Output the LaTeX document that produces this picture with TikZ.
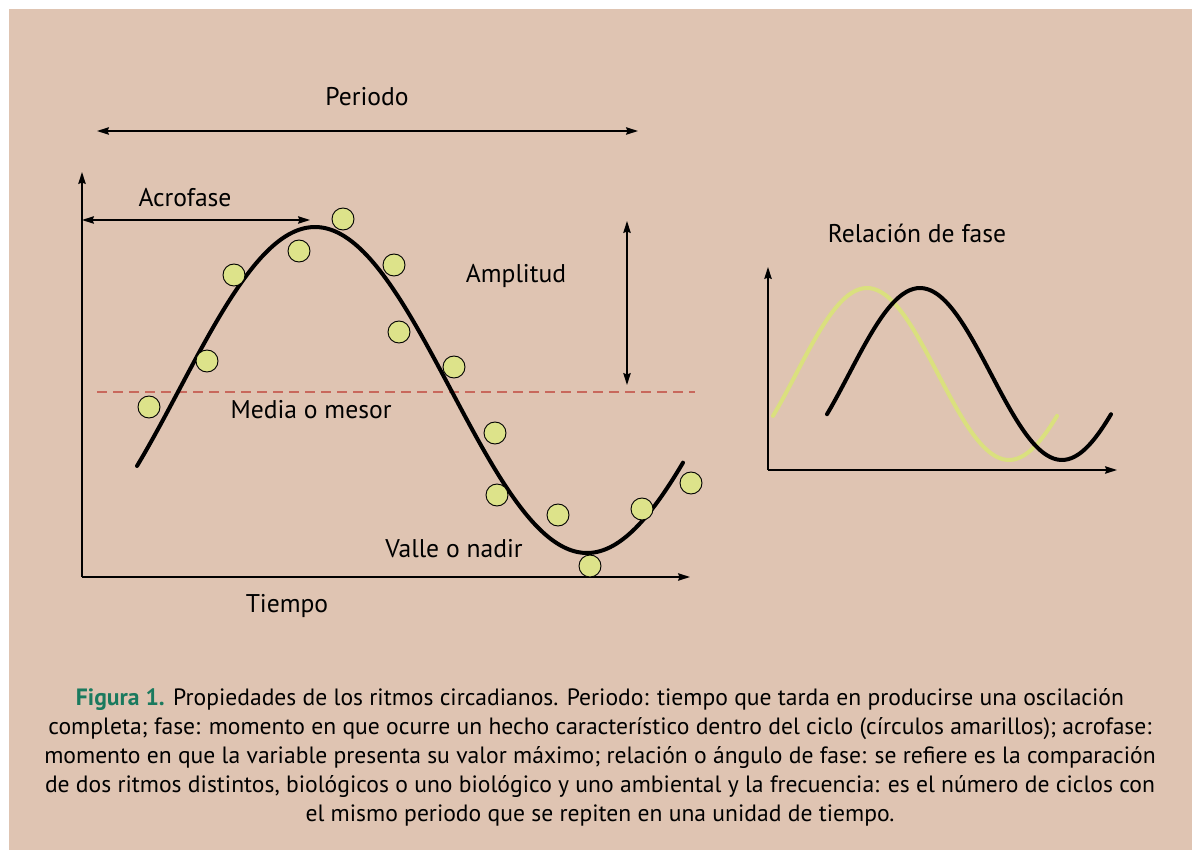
\documentclass[tikz,border=0pt]{standalone}
\usepackage{fontspec}
\setmainfont{PT Sans}
\usetikzlibrary{arrows.meta}
\definecolor{bgbeige}{RGB}{223,196,178}
\definecolor{dotyellow}{RGB}{221,227,138}
\definecolor{curveyellow}{RGB}{218,224,126}
\definecolor{meanred}{RGB}{200,104,92}
\definecolor{figgreen}{RGB}{26,122,94}
\tikzset{
  tip/.style={-{Stealth[length=12pt,width=7.5pt,inset=1.5pt]}},
  biarrow/.style={{Stealth[length=12pt,width=7.5pt,inset=1.5pt]}-{Stealth[length=12pt,width=7.5pt,inset=1.5pt]}, line width=1.2pt},
  axis/.style={tip, line width=1.3pt},
  lbl/.style={font=\fontsize{25.6}{30}\selectfont, inner sep=0pt},
  dot/.style={circle, draw=black, line width=0.9pt, fill=dotyellow, minimum size=22pt, inner sep=0pt},
  curve/.style={line width=4pt, line cap=round},
}
\begin{document}
\begin{tikzpicture}[x=1pt,y=-1pt]
\useasboundingbox (0,0) rectangle (1192,850);
\fill[white] (0,0) rectangle (1192,850);
\fill[bgbeige] (9,9) rectangle (1192,850);

% ---- main graph ----
\node[lbl] (periodo) at (367,97) {Periodo};
\coordinate (perL) at (97,131);
\coordinate (perR) at (638,131);
\draw[biarrow] (perL) -- (perR);

\coordinate (origin) at (82,577);
\coordinate (ytop) at (82,172);
\coordinate (xend) at (690,577);
\draw[axis] (origin) -- (ytop);
\draw[axis] (origin) -- (xend);

\node[lbl] (acrofase) at (185,198) {Acrofase};
\coordinate (acL) at (82,220);
\coordinate (acR) at (310,220);
\draw[biarrow] (acL) -- (acR);

\coordinate (meanL) at (97,392);
\coordinate (meanR) at (695,392);
\draw[meanred, line width=2.4pt, dash pattern=on 10pt off 6pt] (meanL) -- (meanR);

\coordinate (ampT) at (627,221);
\coordinate (ampB) at (627,385);
\draw[biarrow] (ampT) -- (ampB);
\node[lbl] (amplitud) at (516,276) {Amplitud};

\draw[curve] plot[domain=137:683, samples=120, smooth] (\x, {390-163*cos((\x-315)/544*360)});

\foreach \i/\p in {1/{(149,407)},2/{(207,361)},3/{(234,275)},4/{(299,251)},5/{(343,219)},
  6/{(394,265)},7/{(399,332)},8/{(454,367)},9/{(495,433)},10/{(497,495)},
  11/{(558,515)},12/{(590,566)},13/{(642,509)},14/{(691,483)}}
  \node[dot] (d\i) at \p {};

\node[lbl] (media) at (311,410) {Media o mesor};
\node[lbl] (valle) at (454,549) {Valle o nadir};
\node[lbl] (tiempo) at (287,606) {Tiempo};

% ---- phase relation graph ----
\node[lbl] (relacion) at (917,233) {Relación de fase};
\coordinate (o2) at (768,470);
\coordinate (y2) at (768,267);
\coordinate (x2) at (1117,470);
\draw[axis] (o2) -- (y2);
\draw[axis] (o2) -- (x2);
\draw[curve, curveyellow] plot[domain=773:1057, samples=80, smooth] (\x, {374-86*cos((\x-867)/284*360)});
\draw[curve, black] plot[domain=827:1111, samples=80, smooth] (\x, {374-86*cos((\x-920)/284*360)});

% ---- caption ----
\node[align=center, inner sep=0pt, font=\fontsize{23.6}{29}\selectfont] (caption) at (600,757) {%
{\bfseries\color{figgreen}Figura 1.} Propiedades de los ritmos circadianos. Periodo: tiempo que tarda en producirse una oscilación\\
completa; fase: momento en que ocurre un hecho característico dentro del ciclo (círculos amarillos); acrofase:\\
momento en que la variable presenta su valor máximo; relación o ángulo de fase: se refiere es la comparación\\
de dos ritmos distintos, biológicos o uno biológico y uno ambiental y la frecuencia: es el número de ciclos con\\
el mismo periodo que se repiten en una unidad de tiempo.};
\end{tikzpicture}
\end{document}
